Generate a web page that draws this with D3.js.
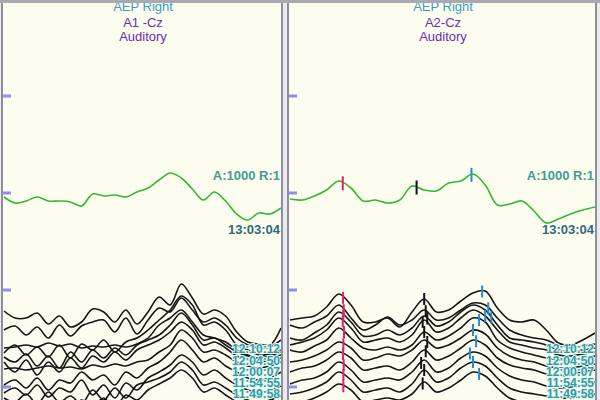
<!DOCTYPE html>
<html>
<head>
<meta charset="utf-8">
<title>AEP Right</title>
<style>
  *{margin:0;padding:0;}
  body{background:#ebebee;}
  svg{display:block;}
</style>
</head>
<body>
<svg id="chart" width="600" height="400"></svg>
<script src="https://cdn.jsdelivr.net/npm/d3@7/dist/d3.min.js"></script>
<script>
// ---- data ----
var sampleMs = 0.4;   // one sample every 0.4 ms, 26 samples = 0..10 ms
var titleTop = "AEP Right";
var channels = ["A1 -Cz", "A2-Cz"];
var modality = "Auditory";
var gainText = "A:1000 R:1";
var latestTime = "13:03:04";
var olderTimes = ["12:10:12", "12:04:50", "12:00:07", "11:54:55", "11:49:58"];
var olderTimeLevels = [-59, -71, -82, -93, -104];

// latest average (green), uV relative to its row
var greenLeft = [-4,-10,-8,-4,-8,-8,-9,-13,-1,-3,-2,-4,1,5,13,20,15,4,-7,1,-8,-21,-27,-20,-21,-15];
var greenRight = [-6,-7,-3,3,12,5,-8,-7,-10,-7,7,3,2,10,12,19,8,-12,-11,-8,-18,-30,-26,-21,-17,-14];
var greenPeaks = [1.73, 4.15, 5.95];

// earlier averages (black), uV relative to the lower row
var blackLeft = [
  [-21,-28,-28,-23,-34,-26,-37,-32,-19,-22,-32,-20,-34,-22,-7,-15,6,-8,-24,-20,-26,-42,-52,-54,-55,-38],
  [-40,-36,-45,-37,-48,-35,-46,-36,-32,-30,-42,-28,-44,-30,-18,-22,-8,-20,-32,-28,-35,-48,-55,-58,-57,-50],
  [-58,-57,-55,-57,-53,-56,-54,-58,-56,-57,-55,-57,-54,-48,-35,-28,-20,-32,-45,-48,-52,-60,-65,-68,-66,-62],
  [-63,-55,-65,-57,-67,-55,-68,-54,-60,-50,-62,-52,-48,-40,-30,-20,-6,-15,-35,-32,-40,-55,-60,-65,-64,-60],
  [-67,-72,-64,-76,-66,-78,-62,-72,-60,-68,-58,-65,-55,-50,-45,-35,-23,-35,-50,-48,-55,-62,-66,-68,-67,-65],
  [-72,-82,-70,-85,-72,-82,-68,-78,-66,-72,-62,-70,-60,-55,-50,-42,-32,-40,-55,-52,-58,-66,-70,-72,-70,-68],
  [-79,-78,-80,-78,-76,-78,-77,-79,-75,-77,-74,-76,-72,-70,-62,-55,-40,-48,-62,-60,-65,-72,-76,-78,-76,-72],
  [-95,-90,-98,-88,-100,-90,-93,-82,-90,-85,-95,-82,-88,-78,-72,-62,-50,-60,-72,-68,-76,-82,-88,-90,-88,-82],
  [-103,-98,-105,-95,-107,-98,-102,-90,-105,-95,-108,-93,-100,-88,-82,-75,-65,-72,-85,-80,-88,-95,-100,-102,-100,-96],
  [-108,-112,-104,-114,-102,-112,-106,-114,-100,-110,-98,-108,-95,-92,-88,-82,-72,-80,-95,-92,-98,-105,-110,-112,-110,-106],
  [-118,-114,-120,-112,-122,-115,-120,-110,-116,-108,-118,-105,-110,-100,-94,-88,-80,-88,-102,-98,-105,-112,-118,-120,-118,-114]
];
var blackRight = [
  [-30,-28,-26,-17,-4,-15,-32,-32,-28,-37,-22,-9,-22,-20,-11,-3,-1,-18,-30,-32,-30,-40,-53,-55,-50,-43],
  [-35,-38,-32,-26,-15,-28,-40,-35,-27,-35,-30,-20,-30,-28,-20,-13,-15,-28,-40,-45,-48,-50,-55,-58,-56,-54],
  [-48,-50,-43,-35,-22,-32,-46,-45,-40,-45,-38,-26,-36,-32,-22,-15,-20,-35,-48,-50,-52,-55,-60,-62,-60,-58],
  [-55,-52,-48,-40,-28,-38,-52,-50,-48,-52,-45,-30,-42,-38,-28,-20,-26,-40,-52,-55,-58,-60,-65,-66,-64,-62],
  [-60,-62,-56,-50,-38,-48,-58,-60,-57,-60,-55,-42,-50,-46,-38,-28,-32,-50,-58,-62,-65,-68,-70,-70,-68,-66],
  [-72,-70,-66,-60,-52,-58,-70,-68,-64,-66,-60,-50,-58,-55,-48,-40,-44,-58,-66,-70,-72,-76,-78,-78,-76,-74],
  [-82,-78,-76,-70,-62,-68,-80,-78,-76,-80,-72,-60,-70,-66,-58,-50,-55,-68,-75,-78,-80,-84,-86,-85,-82,-80],
  [-94,-90,-88,-82,-72,-80,-92,-90,-88,-90,-82,-70,-82,-78,-68,-62,-66,-78,-86,-90,-92,-96,-98,-97,-95,-92],
  [-104,-102,-98,-92,-82,-90,-102,-100,-98,-102,-94,-80,-92,-88,-78,-72,-76,-88,-98,-102,-104,-106,-108,-108,-106,-104],
  [-114,-112,-108,-102,-94,-100,-112,-110,-108,-110,-104,-92,-102,-98,-90,-82,-86,-98,-108,-112,-114,-116,-118,-118,-116,-114]
];
// peak latencies (ms) marked on the right channel traces
var pinkLat  = [1.74, 1.76, 1.75, 1.73, 1.77, 1.75, 1.74, 1.76, 1.75, 1.75];
var blackLat = [4.4, 4.45, 4.5, 4.35, 4.4, 4.5, 4.45, 4.3, 4.4, 4.35];
var blueLat  = [6.3, 6.5, 6.6, 6.4, 6.2, 6.0, 6.1, 5.9, 6.0, 6.2];
var peakColors = ["#e0206e", "#111111", "#1f8fd0"];

// ---- drawing ----
var svg = d3.select("#chart");
var rows = d3.scalePoint().domain([0, 1, 2, 3]).range([96, 387]);
var amp = d3.scaleLinear().domain([0, 10]).range([0, -10]);   // 1 uV = 1 px, up is positive

var panels = [
  {x0: 2, x1: 282, channel: channels[0], green: greenLeft, black: blackLeft, peaks: false},
  {x0: 288, x1: 596, channel: channels[1], green: greenRight, black: blackRight, peaks: true}
];

function valueAt(arr, t) {
  var p = t / sampleMs, i = Math.floor(p), f = p - i;
  return arr[i] + (arr[Math.min(i + 1, arr.length - 1)] - arr[i]) * f;
}

panels.forEach(function (p, k) {
  var g = svg.append("g");
  var x = d3.scaleLinear().domain([0, 10]).range([p.x0 + 2, p.x1 - 1]);

  g.append("rect")
    .attr("x", p.x0).attr("y", 2).attr("width", p.x1 - p.x0).attr("height", 420)
    .attr("fill", "#fcfcef").attr("stroke", "#8e8e9e").attr("stroke-width", 2);

  var clipId = "clip" + k;
  svg.append("clipPath").attr("id", clipId)
    .append("rect").attr("x", p.x0 + 1).attr("y", 3).attr("width", p.x1 - p.x0 - 2).attr("height", 400);
  var plot = g.append("g").attr("clip-path", "url(#" + clipId + ")");

  // channel row ticks
  plot.selectAll("rect.tick").data(rows.domain()).enter().append("rect")
    .attr("class", "tick")
    .attr("x", p.x0 + 1).attr("y", function (d) { return rows(d) - 1.5; })
    .attr("width", 8).attr("height", 3).attr("fill", "#8f8ff0");

  // titles
  var cx = (p.x0 + p.x1) / 2 + 1;
  g.append("text").attr("x", cx).attr("y", 11).attr("text-anchor", "middle")
    .attr("font-family", "Liberation Sans, Arial, sans-serif").attr("font-size", 13)
    .attr("fill", "#3a9ec4").text(titleTop);
  g.append("text").attr("x", cx).attr("y", 27).attr("text-anchor", "middle")
    .attr("font-family", "Liberation Sans, Arial, sans-serif").attr("font-size", 13)
    .attr("fill", "#6a2fb0").text(p.channel);
  g.append("text").attr("x", cx).attr("y", 41).attr("text-anchor", "middle")
    .attr("font-family", "Liberation Sans, Arial, sans-serif").attr("font-size", 13)
    .attr("fill", "#6a2fb0").text(modality);

  function line(row) {
    return d3.line()
      .x(function (d, i) { return x(i * sampleMs); })
      .y(function (d) { return rows(row) + amp(d); })
      .curve(d3.curveCatmullRom.alpha(0.5));
  }

  // earlier black traces
  plot.selectAll("path.old").data(p.black).enter().append("path")
    .attr("class", "old")
    .attr("d", line(2))
    .attr("fill", "none").attr("stroke", "#151515").attr("stroke-width", 1.6);

  // latest green trace
  plot.append("path").datum(p.green)
    .attr("d", line(1))
    .attr("fill", "none").attr("stroke", "#35b835").attr("stroke-width", 1.6);

  if (p.peaks) {
    var lats = [pinkLat, blackLat, blueLat];
    lats.forEach(function (lat, c) {
      plot.selectAll("line.pk" + c).data(p.black).enter().append("line")
        .attr("x1", function (d, i) { return x(lat[i]); })
        .attr("x2", function (d, i) { return x(lat[i]); })
        .attr("y1", function (d, i) { return rows(2) + amp(valueAt(d, lat[i])) - 6; })
        .attr("y2", function (d, i) { return rows(2) + amp(valueAt(d, lat[i])) + 6; })
        .attr("stroke", peakColors[c]).attr("stroke-width", 2);
    });
    plot.selectAll("line.gpk").data(greenPeaks).enter().append("line")
      .attr("x1", function (d) { return x(d); }).attr("x2", function (d) { return x(d); })
      .attr("y1", function (d) { return rows(1) + amp(valueAt(p.green, d)) - 7; })
      .attr("y2", function (d) { return rows(1) + amp(valueAt(p.green, d)) + 7; })
      .attr("stroke", function (d, i) { return peakColors[i]; }).attr("stroke-width", 2);
  }

  // labels
  var tx = p.x1 - 2;
  g.append("text").attr("x", tx).attr("y", rows(1) + amp(18)).attr("dy", "0.35em")
    .attr("text-anchor", "end").attr("font-family", "Liberation Sans, Arial, sans-serif")
    .attr("font-size", 13).attr("font-weight", "bold").attr("fill", "#3fa08e").text(gainText);
  g.append("text").attr("x", tx).attr("y", rows(1) + amp(-36)).attr("dy", "0.35em")
    .attr("text-anchor", "end").attr("font-family", "Liberation Sans, Arial, sans-serif")
    .attr("font-size", 13).attr("font-weight", "bold").attr("fill", "#2c6c7c").text(latestTime);

  g.selectAll("text.old").data(olderTimes).enter().append("text")
    .attr("class", "old")
    .attr("x", tx).attr("y", function (d, i) { return rows(2) + amp(olderTimeLevels[i]); })
    .attr("dy", "0.35em").attr("text-anchor", "end")
    .attr("font-family", "Liberation Sans, Arial, sans-serif")
    .attr("font-size", 12).attr("font-weight", "bold")
    .attr("fill", "#2a9fa6").attr("stroke", "#e8f4f0").attr("stroke-width", 2)
    .attr("paint-order", "stroke")
    .text(function (d) { return d; });
});

// grey window bar along the top
svg.append("rect").attr("width", 600).attr("height", 3).attr("fill", "#a9a9b3");
</script>
</body>
</html>
